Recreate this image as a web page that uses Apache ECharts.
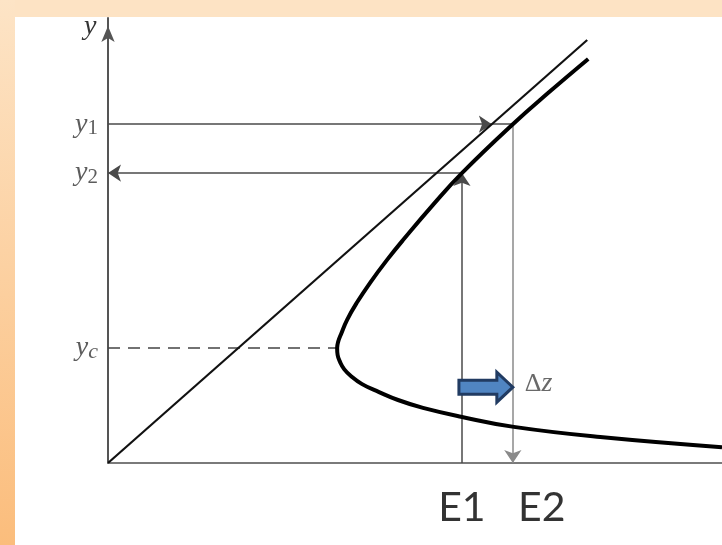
<!DOCTYPE html>
<html>
<head>
<meta charset="utf-8">
<script src="https://cdn.jsdelivr.net/npm/echarts@6/dist/echarts.min.js"></script>
<style>
  html, body { margin: 0; padding: 0; background: #ffffff; }
  #chart { width: 722px; height: 545px; }
</style>
</head>
<body>
<div id="chart"></div>
<script>
// Specific-energy curve: energy E against flow depth y (upper and lower branches)
const curveE = [9.62, 8.85, 8.11, 7.09, 6.51, 5.91, 5.59, 5.25, 4.98, 4.79, 4.67, 4.61, 4.59, 4.60, 4.65, 4.73, 4.86, 5.09, 5.43, 5.81, 6.31, 7.07, 8.13, 9.86, 12.3];
const curveY = [9.17, 8.43, 7.69, 6.58, 5.86, 5.06, 4.61, 4.09, 3.63, 3.25, 2.93, 2.75, 2.61, 2.45, 2.29, 2.13, 1.98, 1.79, 1.61, 1.43, 1.25, 1.05, 0.82, 0.59, 0.36];

// Reference line E = y
const lineEnd = 9.6;

// Depth marks on the y axis
const depthSubs = ['1', '2', 'c'];
const depthValues = [7.69, 6.58, 2.61];

// Energy marks on the E axis
const energyNames = ['E1', 'E2'];
const energyValues = [7.09, 8.11];

// Step height annotation
const stepLabel = 'Δz';
const stepLevel = 1.72;

const y1 = depthValues[0], y2 = depthValues[1], yc = depthValues[2];
const E1 = energyValues[0], E2 = energyValues[1];
const Emin = Math.min.apply(null, curveE);

const chart = echarts.init(document.getElementById('chart'), null, { renderer: 'canvas' });

const serif = '"Liberation Serif", "DejaVu Serif", serif';

const option = {
  animation: false,
  backgroundColor: '#ffffff',
  graphic: [
    {
      type: 'rect', z: 0,
      shape: { x: 0, y: 0, width: 722, height: 17 },
      style: { fill: '#fde3c4' }
    },
    {
      type: 'rect', z: 0,
      shape: { x: 0, y: 0, width: 15, height: 545 },
      style: {
        fill: new echarts.graphic.LinearGradient(0, 0, 0, 1, [
          { offset: 0, color: '#fde4c6' },
          { offset: 1, color: '#fbbd7c' }
        ])
      }
    },
    {
      type: 'text', z: 10,
      left: 84, top: 13,
      style: { text: 'y', font: 'italic 28px ' + serif, fill: '#333333' }
    }
  ],
  grid: { left: 108, right: 0, top: 18, bottom: 82, containLabel: false, outerBoundsMode: 'none' },
  xAxis: {
    type: 'value', min: 0, max: 12.3,
    axisLine: { show: true, onZero: true, lineStyle: { color: '#7a7a7a', width: 2 } },
    axisTick: { show: false }, axisLabel: { show: false }, splitLine: { show: false }
  },
  yAxis: {
    type: 'value', min: 0, max: 10.1,
    axisLine: {
      show: true,
      symbol: ['none', 'arrow'],
      symbolSize: [10, 16],
      symbolOffset: [0, -8],
      lineStyle: { color: '#555555', width: 2 }
    },
    axisTick: { show: false }, axisLabel: { show: false }, splitLine: { show: false }
  },
  series: [
    {
      // line E = y
      type: 'line', silent: true, symbol: 'none',
      data: [[0, 0], [lineEnd, lineEnd]],
      lineStyle: { color: '#111111', width: 2.2 }, z: 3
    },
    {
      // specific-energy curve
      type: 'line', silent: true, symbol: 'none', smooth: 0.45,
      data: curveE.map((e, i) => [e, curveY[i]]),
      lineStyle: { color: '#000000', width: 4 }, z: 4
    },
    {
      // guide lines ending in arrowheads
      type: 'lines', coordinateSystem: 'cartesian2d', silent: true,
      symbol: ['none', 'arrow'], symbolSize: [9, 13],
      lineStyle: { color: '#4a4a4a', width: 1.5, opacity: 1 },
      data: [
        { coords: [[0, y1], [y1, y1]] },
        { coords: [[E2, y1], [E2, 0]], lineStyle: { color: '#8a8a8a' } },
        { coords: [[E1, 0], [E1, y2]] },
        { coords: [[E1, y2], [0, y2]] }
      ], z: 2
    },
    {
      // plain guide lines
      type: 'lines', coordinateSystem: 'cartesian2d', silent: true,
      symbol: ['none', 'none'],
      lineStyle: { color: '#4a4a4a', width: 1.5, opacity: 1 },
      data: [
        { coords: [[y1, y1], [E2, y1]] },
        { coords: [[0, yc], [Emin, yc]], lineStyle: { type: [12, 8], color: '#444444' } }
      ], z: 2
    },
    {
      // depth labels on the y axis
      type: 'scatter', silent: true, symbolSize: 0,
      data: depthValues.map((v, i) => ({ value: [0, v], sub: depthSubs[i] })),
      label: {
        show: true, position: 'left', distance: 10,
        formatter: p => '{v|y}' + (/\d/.test(p.data.sub) ? '{n|' : '{c|') + p.data.sub + '}',
        rich: {
          v: { fontFamily: serif, fontStyle: 'italic', fontSize: 28, color: '#333333', lineHeight: 30 },
          n: { fontFamily: serif, fontSize: 21, color: '#333333', lineHeight: 20, verticalAlign: 'bottom' },
          c: { fontFamily: serif, fontStyle: 'italic', fontSize: 22, color: '#333333', lineHeight: 20, verticalAlign: 'bottom' }
        }
      }, z: 5
    },
    {
      // energy labels under the E axis
      type: 'scatter', silent: true, symbolSize: 0,
      data: energyValues.map((v, i) => ({
        value: [v, 0], name: energyNames[i],
        label: { offset: [i === 1 ? 29 : 0, 0] }
      })),
      label: {
        show: true, position: 'bottom', distance: 24,
        formatter: p => p.name,
        fontFamily: 'Lato, "Noto Sans", sans-serif', fontSize: 41, color: '#000000'
      }, z: 5
    },
    {
      // step-height block arrow from E1 to E2
      type: 'custom', silent: true, z: 6,
      data: [[E1, E2, stepLevel]],
      renderItem: function (params, api) {
        const a = api.coord([api.value(0), api.value(2)]);
        const b = api.coord([api.value(1), api.value(2)]);
        const x0 = a[0] - 3, x1 = b[0], y = a[1];
        const bh = 7, hh = 15, hl = 16;
        return {
          type: 'polygon',
          shape: { points: [
            [x0, y - bh], [x1 - hl, y - bh], [x1 - hl, y - hh], [x1, y],
            [x1 - hl, y + hh], [x1 - hl, y + bh], [x0, y + bh]
          ] },
          style: { fill: '#5085c2', stroke: '#213b62', lineWidth: 3, lineJoin: 'miter' }
        };
      }
    },
    {
      // step-height label
      type: 'scatter', silent: true, symbolSize: 0,
      data: [[E2, stepLevel + 0.07]],
      label: {
        show: true, position: 'right', distance: 12,
        formatter: () => '{d|' + stepLabel.charAt(0) + '}{z|' + stepLabel.charAt(1) + '}',
        rich: {
          d: { fontFamily: serif, fontSize: 26, color: '#444444' },
          z: { fontFamily: serif, fontStyle: 'italic', fontSize: 28, color: '#444444' }
        }
      }, z: 5
    }
  ]
};

chart.setOption(option);
</script>
</body>
</html>
